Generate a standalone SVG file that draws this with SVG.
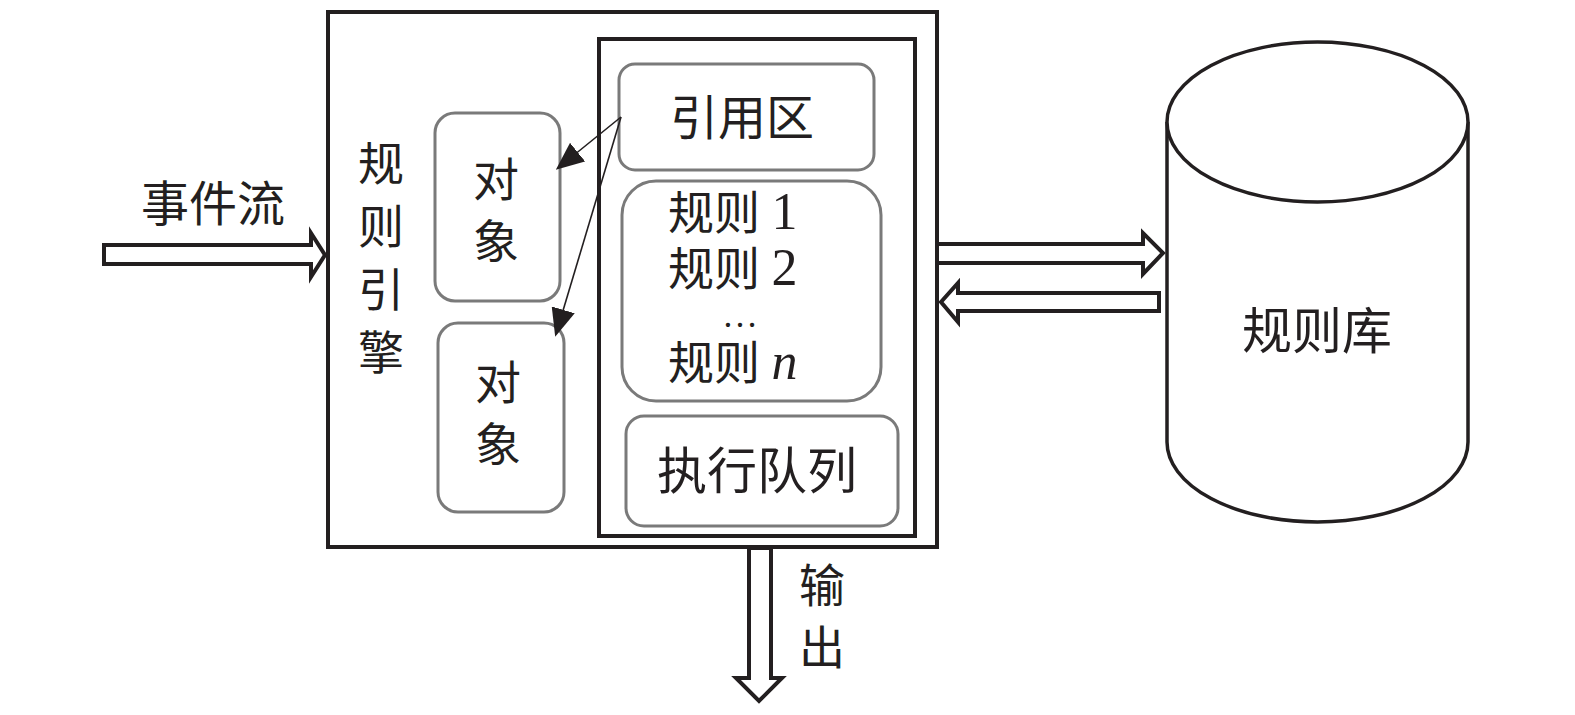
<svg xmlns="http://www.w3.org/2000/svg" width="1575" height="715" viewBox="0 0 1575 715">
<style>
.t{font-family:"Liberation Serif","Noto Sans CJK SC",serif;fill:#231f20}
.box{fill:none;stroke:#231f20;stroke-width:4}
.rb{fill:#fff;stroke:#7a7a7a;stroke-width:3}
.dbl{fill:#fff;stroke:#231f20;stroke-width:4;stroke-linejoin:miter}
.thin{fill:none;stroke:#231f20;stroke-width:1.6}
.num{font-size:52px}
</style>
<defs>
<marker id="ah2" viewBox="0 0 10 10" refX="9" refY="5" markerWidth="28" markerHeight="24" markerUnits="userSpaceOnUse" orient="auto" preserveAspectRatio="none">
<path d="M0,0 L10,5 L0,10 z" fill="#231f20"/>
</marker>
</defs>
<rect width="1575" height="715" fill="#fff"/>

<g id="engine">
<rect class="box" x="328" y="12" width="609" height="535"/>
<text class="t" font-size="46" text-anchor="middle" x="381" y="180">规</text>
<text class="t" font-size="46" text-anchor="middle" x="381" y="243">则</text>
<text class="t" font-size="46" text-anchor="middle" x="381" y="306">引</text>
<text class="t" font-size="46" text-anchor="middle" x="381" y="369">擎</text>
</g>

<g id="inner">
<rect class="box" x="599" y="39" width="316" height="497"/>
</g>

<g id="obj1">
<rect class="rb" x="435" y="113" width="125" height="188" rx="20"/>
<text class="t" font-size="46" text-anchor="middle" x="496" y="196">对</text>
<text class="t" font-size="46" text-anchor="middle" x="496" y="258">象</text>
</g>

<g id="obj2">
<rect class="rb" x="438" y="323" width="126" height="189" rx="20"/>
<text class="t" font-size="46" text-anchor="middle" x="498" y="399">对</text>
<text class="t" font-size="46" text-anchor="middle" x="498" y="461">象</text>
</g>

<g id="ref">
<rect class="rb" x="619" y="64" width="255" height="106" rx="16"/>
<text class="t" font-size="48" text-anchor="middle" x="742" y="135">引用区</text>
</g>

<g id="rules">
<rect class="rb" x="622" y="181" width="259" height="220" rx="34"/>
<text class="t" font-size="46" x="668" y="229">规则 <tspan class="num">1</tspan></text>
<text class="t" font-size="46" x="668" y="285">规则 <tspan class="num">2</tspan></text>
<text class="t" font-size="36" text-anchor="middle" x="740" y="327">…</text>
<text class="t" font-size="46" x="668" y="379">规则 <tspan class="num" font-style="italic">n</tspan></text>
</g>

<g id="queue">
<rect class="rb" x="626" y="416" width="272" height="110" rx="18"/>
<text class="t" font-size="50" text-anchor="middle" x="757" y="489">执行队列</text>
</g>

<g id="db">
<path d="M1167,122 L1167,442 A150.5,80 0 0 0 1468,442 L1468,122" fill="#fff" stroke="#231f20" stroke-width="3.5"/>
<ellipse cx="1317.5" cy="122" rx="150.5" ry="80" fill="#fff" stroke="#231f20" stroke-width="3.5"/>
<text class="t" font-size="50" text-anchor="middle" x="1317" y="349">规则库</text>
</g>

<g id="connectors">
<polygon class="dbl" points="104,245 311,245 311,233 325,255 311,277 311,264 104,264"/>
<polygon class="dbl" points="937,244 1143,244 1143,233 1163,253 1143,274 1143,263 937,263"/>
<polygon class="dbl" points="1159,293 958,293 958,283 941,302 958,322 958,311 1159,311"/>
<polygon class="dbl" points="749,548 749,678 736,678 759,701 782,678 771,678 771,548"/>
<line class="thin" x1="621" y1="117" x2="558" y2="168" marker-end="url(#ah2)"/>
<line class="thin" x1="621" y1="117" x2="556" y2="334" marker-end="url(#ah2)"/>
</g>

<g id="labels">
<text class="t" font-size="48" text-anchor="middle" x="213" y="221">事件流</text>
<text class="t" font-size="46" text-anchor="middle" x="822" y="602">输</text>
<text class="t" font-size="46" text-anchor="middle" x="822" y="664">出</text>
</g>
</svg>
